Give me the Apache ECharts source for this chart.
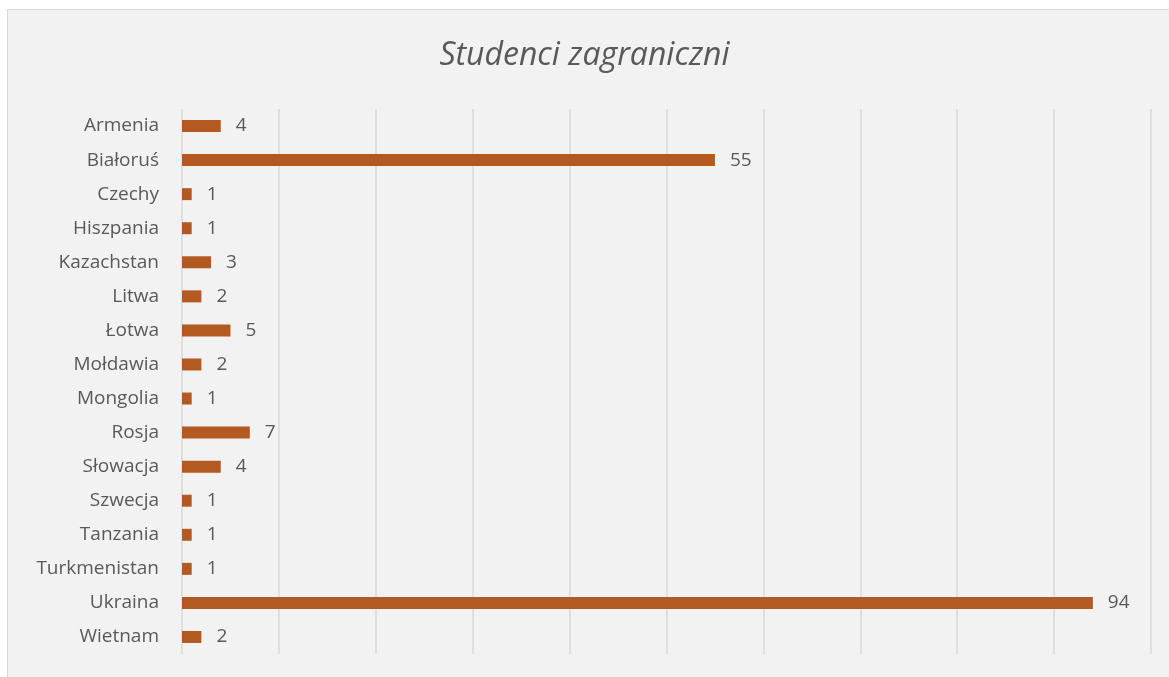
<!DOCTYPE html>
<html>
<head>
<meta charset="utf-8">
<script src="https://cdn.jsdelivr.net/npm/echarts@6/dist/echarts.min.js"></script>
<style>
  html, body { margin: 0; padding: 0; background: #fff; }
  .frame {
    position: absolute; left: 7px; top: 9px; width: 1170px; height: 670px;
    background: #f2f2f2; border: 1px solid #d9d9d9;
  }
  #chart { position: absolute; left: 0; top: 0; width: 1169px; height: 677px; }
</style>
</head>
<body>
<div class="frame"></div>
<div id="chart"></div>
<script>
  const countries = ['Armenia', 'Białoruś', 'Czechy', 'Hiszpania', 'Kazachstan', 'Litwa', 'Łotwa', 'Mołdawia',
    'Mongolia', 'Rosja', 'Słowacja', 'Szwecja', 'Tanzania', 'Turkmenistan', 'Ukraina', 'Wietnam']
  const students = [4, 55, 1, 1, 3, 2, 5, 2, 1, 7, 4, 1, 1, 1, 94, 2]

  const mychart = echarts.init(document.getElementById('chart'))
  const textFont = '"Open Sans", "Noto Sans", sans-serif'
  mychart.setOption({
    animation: false,
    title: {
      text: 'Studenci zagraniczni',
      left: 'center',
      top: 35,
      textStyle: {
        fontFamily: textFont,
        fontStyle: 'italic',
        fontWeight: 'normal',
        fontSize: 32,
        color: '#595959'
      }
    },
    grid: { left: 182, right: 18, top: 109, height: 545 },
    xAxis: {
      type: 'value',
      min: 0,
      max: 100,
      interval: 10,
      axisLine: { show: false },
      axisTick: { show: false },
      axisLabel: { show: false },
      splitLine: { show: true, lineStyle: { color: '#d9d9d9', width: 1.5 } }
    },
    yAxis: {
      type: 'category',
      inverse: true,
      data: countries,
      axisLine: { show: false },
      axisTick: { show: false },
      axisLabel: {
        margin: 23,
        fontFamily: textFont,
        fontSize: 19,
        color: '#595959'
      }
    },
    series: [
      {
        type: 'bar',
        data: students,
        barWidth: 12,
        itemStyle: { color: '#b35a22' },
        label: {
          show: true,
          position: 'right',
          distance: 15,
          fontFamily: textFont,
          fontSize: 19,
          color: '#595959'
        }
      }
    ]
  })
</script>
</body>
</html>
